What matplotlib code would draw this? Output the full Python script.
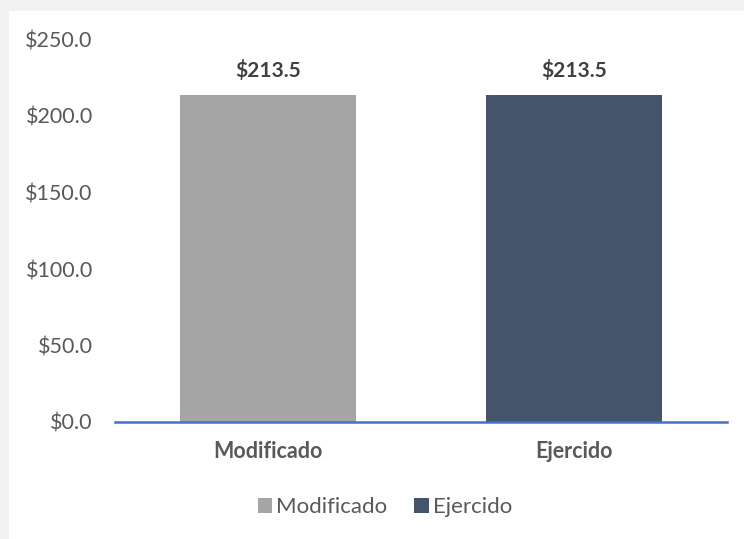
import matplotlib
matplotlib.use("Agg")
import matplotlib.pyplot as plt
from matplotlib.patches import Patch

categories = ["Modificado", "Ejercido"]
values = [213.5, 213.5]
colors = ["#A5A5A5", "#44546A"]
yticks = [0, 50, 100, 150, 200, 250]
ytick_labels = ["$0.0", "$50.0", "$100.0", "$150.0", "$200.0", "$250.0"]
data_labels = ["$213.5", "$213.5"]

plt.rcParams['font.family'] = ['Lato', 'DejaVu Sans']

W, H = 744, 539
fig = plt.figure(figsize=(W / 100, H / 100), dpi=100)
fig.patch.set_facecolor("#F2F2F2")
bg = fig.add_axes([9 / W, 0, 1 - 9 / W, 1 - 11 / H], zorder=-5)
bg.set_facecolor("white")
bg.set_xticks([]); bg.set_yticks([])
for s in bg.spines.values():
    s.set_visible(False)

ax = fig.add_axes([115 / W, 1 - 422 / H, (727 - 115) / W, (422 - 39.5) / H])
ax.set_facecolor("none")
x = list(range(len(categories)))
bars = ax.bar(x, values, width=0.572, color=colors, zorder=2)
ax.set_xlim(-0.5, 1.5)
ax.set_ylim(0, 250)
ax.set_yticks(yticks)
ax.set_yticklabels(ytick_labels, fontsize=15.5, color="#595959")
ax.set_xticks(x)
ax.set_xticklabels(categories, fontsize=15.5, color="#595959", fontweight="bold")
ax.tick_params(axis="y", length=0, pad=16)
ax.tick_params(axis="x", length=0, pad=14)
for s in ["top", "right", "left"]:
    ax.spines[s].set_visible(False)
ax.spines["bottom"].set_color("#4472C4")
ax.spines["bottom"].set_linewidth(1.8)

for xi, v, lab in zip(x, values, data_labels):
    ax.annotate(lab, (xi, v), xytext=(0, 18), textcoords="offset points",
                ha="center", va="center", fontsize=15, fontweight="bold", color="#404040")

handles = [Patch(facecolor=c, edgecolor="none") for c in colors]
fig.legend(handles, categories, loc="center", bbox_to_anchor=(385 / W, 1 - 507 / H),
           ncol=2, frameon=False, fontsize=16, labelcolor="#595959",
           handlelength=0.65, handleheight=0.65, handletextpad=0.2, columnspacing=1.2)

fig.savefig("out.png", dpi=100, facecolor=fig.get_facecolor())
